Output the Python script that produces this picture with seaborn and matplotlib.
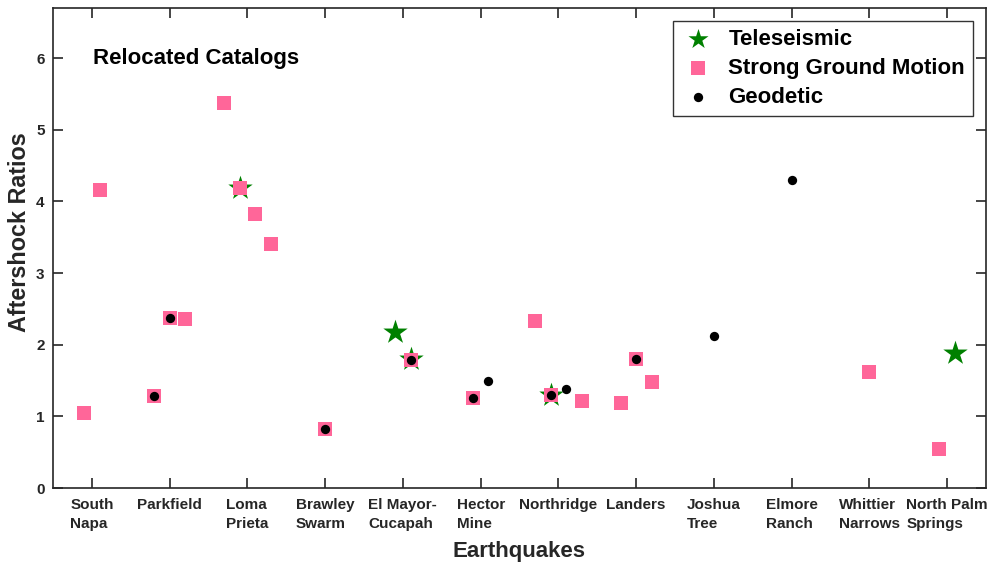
import pandas as pd
import matplotlib
matplotlib.use("Agg")
import matplotlib.pyplot as plt
import seaborn as sns

# Earthquakes along the x axis (two-line tick labels)
quakes = ["South\nNapa", "Parkfield", "Loma\nPrieta", "Brawley\nSwarm",
          "El Mayor-\nCucapah", "Hector\nMine", "Northridge", "Landers",
          "Joshua\nTree", "Elmore\nRanch", "Whittier\nNarrows", "North Palm\nSprings"]

# each series: earthquake number (1-based), slot offset within the group, ratio
tele_quake = [3, 5, 5, 7, 12]
tele_slot = [-0.1, -0.1, 0.1, -0.1, 0.1]
tele_ratio = [4.19, 2.18, 1.80, 1.30, 1.88]

sgm_quake = [1, 1, 2, 2, 2, 3, 3, 3, 3, 4, 5, 6, 7, 7, 7, 8, 8, 8, 11, 12]
sgm_slot = [-0.1, 0.1, -0.2, 0.0, 0.2, -0.3, -0.1, 0.1, 0.3, 0.0, 0.1, -0.1,
            -0.3, -0.1, 0.3, -0.2, 0.0, 0.2, 0.0, -0.1]
sgm_ratio = [1.04, 4.16, 1.28, 2.37, 2.36, 5.37, 4.19, 3.82, 3.40, 0.82, 1.79, 1.26,
             2.33, 1.30, 1.21, 1.18, 1.80, 1.48, 1.62, 0.54]

geo_quake = [2, 2, 4, 5, 6, 6, 7, 7, 8, 9, 10]
geo_slot = [-0.2, 0.0, 0.0, 0.1, -0.1, 0.1, -0.1, 0.1, 0.0, 0.0, 0.0]
geo_ratio = [1.28, 2.37, 0.82, 1.79, 1.26, 1.49, 1.30, 1.38, 1.80, 2.12, 4.30]


def make_df(q, s, r):
    df = pd.DataFrame({"quake": q, "slot": s, "ratio": r})
    df["x"] = df["quake"] + df["slot"]
    return df


tele = make_df(tele_quake, tele_slot, tele_ratio)
sgm = make_df(sgm_quake, sgm_slot, sgm_ratio)
geo = make_df(geo_quake, geo_slot, geo_ratio)

sns.set_theme(style="white")
plt.rcParams["font.family"] = ["Liberation Sans", "DejaVu Sans"]
plt.rcParams["font.weight"] = "bold"

fig = plt.figure(figsize=(9.9, 5.66), dpi=100)
ax = fig.add_axes([53 / 990, 1 - 488 / 566, 933 / 990, 480 / 566])

sns.scatterplot(data=tele, x="x", y="ratio", marker="*", s=340, color="#008000",
                linewidth=0, ax=ax, label="Teleseismic", zorder=3)
sns.scatterplot(data=sgm, x="x", y="ratio", marker="s", s=90, color="#ff6699",
                linewidth=0, ax=ax, label="Strong Ground Motion", zorder=4)
sns.scatterplot(data=geo, x="x", y="ratio", marker="o", s=45, color="black",
                linewidth=0, ax=ax, label="Geodetic", zorder=5)

ax.set_xlim(0.5, 12.5)
ax.set_ylim(0, 6.7)
ax.set_xticks(range(1, len(quakes) + 1))
ax.set_xticklabels(quakes, multialignment="left", linespacing=1.5)
ax.set_yticks(range(0, 7))

dark = "#262626"
for sp in ax.spines.values():
    sp.set_visible(True)
    sp.set_color(dark)
    sp.set_linewidth(1.2)
ax.tick_params(axis="both", which="major", direction="in", length=7, width=1.2,
               color=dark, labelcolor=dark, labelsize=11, top=True, right=True,
               bottom=True, left=True)
ax.tick_params(axis="x", pad=7)
ax.tick_params(axis="y", pad=6)
for lab in ax.get_xticklabels() + ax.get_yticklabels():
    lab.set_fontweight("bold")

ax.set_xlabel("Earthquakes", fontsize=16, fontweight="bold", color=dark)
ax.set_ylabel("Aftershock Ratios", fontsize=16.8, fontweight="bold", color=dark)
ax.xaxis.label.set_verticalalignment("center")
ax.yaxis.label.set_verticalalignment("center")
ax.xaxis.set_label_coords(0.5, -0.133)
ax.yaxis.set_label_coords(-0.0354, 0.533)

ax.text(0.043, 0.894, "Relocated Catalogs", transform=ax.transAxes,
        fontsize=16, fontweight="bold", va="center", ha="left", color="black")

leg = ax.legend(loc="upper right", fontsize=16, frameon=True, fancybox=False,
                edgecolor="black", borderaxespad=0.59, handletextpad=0.55,
                labelspacing=0.36, borderpad=0.35, handlelength=1.6)
leg.get_frame().set_linewidth(1.0)
for t in leg.get_texts():
    t.set_fontweight("bold")
    t.set_color("black")
leg.legend_handles[0].set_sizes([230])

fig.savefig("out.png", dpi=100)
